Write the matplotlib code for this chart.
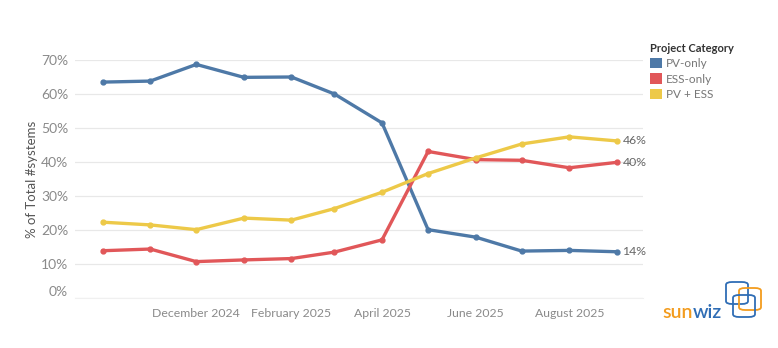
import datetime as dt
import matplotlib
matplotlib.use("Agg")
from matplotlib import pyplot as plt
from matplotlib.patches import Patch, FancyBboxPatch

plt.rcParams['font.family'] = ['Lato', 'DejaVu Sans']

# monthly share of installed systems by project category
months = [dt.date(2024, 10, 1), dt.date(2024, 11, 1), dt.date(2024, 12, 1),
          dt.date(2025, 1, 1), dt.date(2025, 2, 1), dt.date(2025, 3, 1),
          dt.date(2025, 4, 1), dt.date(2025, 5, 1), dt.date(2025, 6, 1),
          dt.date(2025, 7, 1), dt.date(2025, 8, 1), dt.date(2025, 9, 1)]
pv_only = [63.5, 63.8, 68.7, 64.9, 65.0, 60.0, 51.5, 20.1, 17.9, 13.8, 14.0, 13.6]
ess_only = [13.9, 14.4, 10.7, 11.2, 11.6, 13.5, 17.1, 43.1, 40.7, 40.5, 38.3, 39.9]
pv_ess = [22.3, 21.5, 20.1, 23.5, 22.9, 26.3, 31.1, 36.6, 41.2, 45.3, 47.4, 46.2]

categories = ['PV-only', 'ESS-only', 'PV + ESS']
colors = ['#4e79a7', '#e15759', '#edc948']
series = [pv_only, ess_only, pv_ess]

yticks = [0, 10, 20, 30, 40, 50, 60, 70]
xticks = [dt.date(2024, 12, 1), dt.date(2025, 2, 1), dt.date(2025, 4, 1),
          dt.date(2025, 6, 1), dt.date(2025, 8, 1)]
xtick_labels = ['December 2024', 'February 2025', 'April 2025', 'June 2025', 'August 2025']

W, H = 778, 348
fig = plt.figure(figsize=(W / 100, H / 100), dpi=100)
ax = fig.add_axes([75 / W, 1 - 298 / H, (643 - 75) / W, (298 - 60) / H])

for vals, c in zip(series, colors):
    ax.plot(months, vals, color=c, lw=2.4, marker='o', ms=3.5,
            solid_capstyle='round', clip_on=False, zorder=3)

# value labels at the last month
for vals in series:
    ax.annotate(f"{vals[-1]:.0f}%", (months[-1], vals[-1]), xytext=(4, 0),
                textcoords='offset points', va='center', ha='left',
                fontsize=8.8, color='#666666')

ax.set_ylim(0, 70)
ax.set_xlim(dt.date(2024, 9, 13), dt.date(2025, 9, 18))
ax.set_yticks(yticks)
ax.set_yticklabels([f"{t}%" for t in yticks])
ax.set_xticks(xticks)
ax.set_xticklabels(xtick_labels)
ax.tick_params(axis='both', length=0, labelcolor='#8a8a8a')
ax.tick_params(axis='y', pad=5, labelsize=10)
ax.tick_params(axis='x', pad=7, labelsize=8.8)
for lbl in ax.get_yticklabels():
    if lbl.get_text() == '0%':
        lbl.set_va('bottom')
ax.grid(axis='y', color='#e8e8e8', lw=0.9)
ax.set_axisbelow(True)
for s in ['top', 'right', 'left']:
    ax.spines[s].set_visible(False)
ax.spines['bottom'].set_color('#f0f0f0')
ax.set_ylabel('% of Total #systems', fontsize=9.5, color='#555555')
ax.yaxis.set_label_coords(-0.066, 0.5)

handles = [Patch(facecolor=c, edgecolor='none') for c in colors]
leg = fig.legend(handles, categories, loc='upper left',
                 bbox_to_anchor=(645 / W, 1 - 38 / H), frameon=False,
                 title='Project Category', alignment='left',
                 handlelength=1.0, handleheight=1.0, handletextpad=0.4,
                 labelspacing=0.35, fontsize=8.5, borderaxespad=0)
leg.get_title().set_fontsize(8)
leg.get_title().set_fontweight('bold')
leg.get_title().set_color('#333333')
for t in leg.get_texts():
    t.set_color('#777777')

# sunwiz logo: word mark plus three rounded squares
sun = fig.text(662 / W, 1 - 318 / H, 'sun', fontsize=14, fontweight='semibold',
               color='#f39c1e', ha='left', va='baseline')
fig.add_artist(plt.Annotation('wiz', xy=(1, 0), xycoords=sun, ha='left', va='bottom',
                              fontsize=14, fontweight='semibold', color='#2f6db5'))
for x0, y0, c in [(726, 282, '#2f6db5'), (739, 288, '#f39c1e'), (733, 295, '#2f6db5')]:
    box = FancyBboxPatch((x0 / W, 1 - (y0 + 22) / H), 22 / W, 22 / H,
                         boxstyle='round,pad=0,rounding_size=0.008',
                         transform=fig.transFigure, facecolor='none',
                         edgecolor=c, lw=1.3)
    fig.add_artist(box)

fig.savefig('out.png', dpi=100)
